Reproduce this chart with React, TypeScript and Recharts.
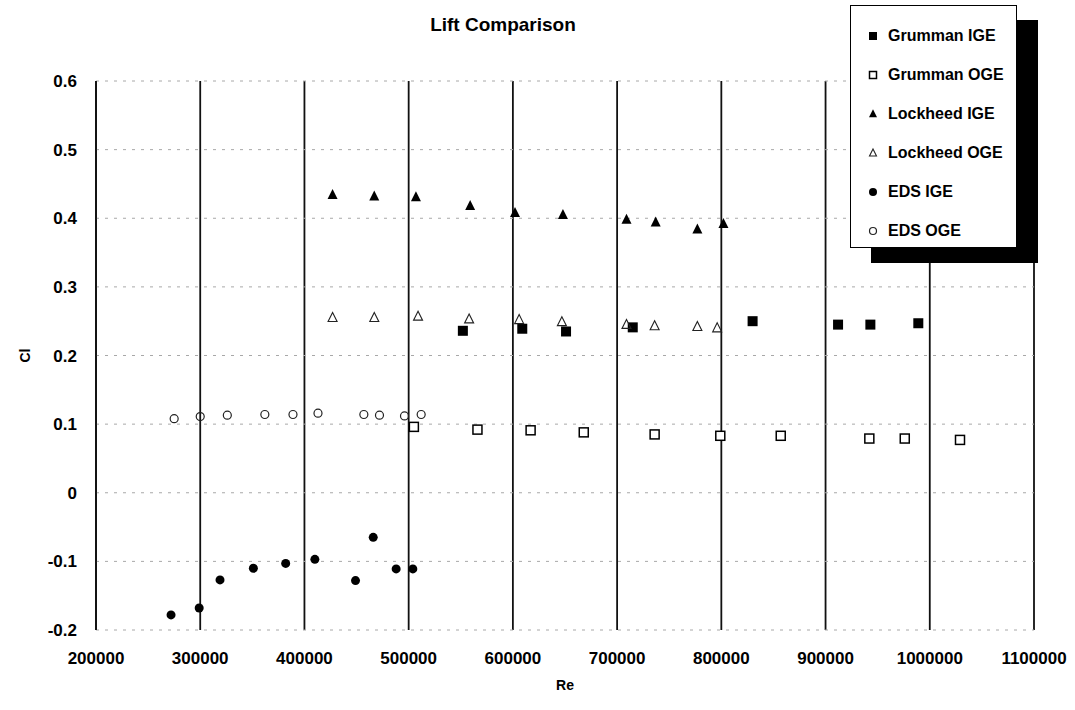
import React from 'react';
import { ScatterChart, Scatter, XAxis, YAxis, CartesianGrid, Legend } from 'recharts';

const xTicks = [200000, 300000, 400000, 500000, 600000, 700000, 800000, 900000, 1000000, 1100000];
const yTicks = [-0.2, -0.1, 0, 0.1, 0.2, 0.3, 0.4, 0.5, 0.6];

const grummanIgeRe = [552000, 609000, 651000, 715000, 830000, 912000, 943000, 989000];
const grummanIgeCl = [0.236, 0.239, 0.235, 0.241, 0.25, 0.245, 0.245, 0.247];

const grummanOgeRe = [505000, 566000, 617000, 668000, 736000, 799000, 857000, 942000, 976000, 1029000];
const grummanOgeCl = [0.096, 0.092, 0.091, 0.088, 0.085, 0.083, 0.083, 0.079, 0.079, 0.077];

const lockheedIgeRe = [427000, 467000, 507000, 559000, 602000, 648000, 709000, 737000, 777000, 802000];
const lockheedIgeCl = [0.434, 0.432, 0.431, 0.418, 0.408, 0.405, 0.398, 0.394, 0.384, 0.392];

const lockheedOgeRe = [427000, 467000, 509000, 558000, 606000, 647000, 709000, 736000, 777000, 796000];
const lockheedOgeCl = [0.255, 0.255, 0.257, 0.253, 0.252, 0.249, 0.245, 0.243, 0.242, 0.24];

const edsIgeRe = [272000, 299000, 319000, 351000, 382000, 410000, 449000, 466000, 488000, 504000];
const edsIgeCl = [-0.178, -0.168, -0.127, -0.11, -0.103, -0.097, -0.128, -0.065, -0.111, -0.111];

const edsOgeRe = [275000, 300000, 326000, 362000, 389000, 413000, 457000, 472000, 496000, 512000];
const edsOgeCl = [0.108, 0.111, 0.113, 0.114, 0.114, 0.116, 0.114, 0.113, 0.112, 0.114];

const zip = (re: number[], cl: number[]) => re.map((r, i) => ({ re: r, cl: cl[i] }));

const FONT = '"Liberation Sans", Arial, Helvetica, sans-serif';

type SP = { cx?: number; cy?: number; s?: number };

const FilledSquare = ({ cx = 0, cy = 0, s = 10 }: SP) => (
  <rect x={cx - s / 2} y={cy - s / 2} width={s} height={s} fill="#000" />
);
const OpenSquare = ({ cx = 0, cy = 0, s = 9 }: SP) => (
  <rect x={cx - s / 2} y={cy - s / 2} width={s} height={s} fill="#fff" stroke="#000" strokeWidth={1.5} />
);
const triPts = (cx: number, cy: number, s: number) =>
  `${cx},${cy - s * 0.58} ${cx - s / 2},${cy + s * 0.42} ${cx + s / 2},${cy + s * 0.42}`;
const FilledTriangle = ({ cx = 0, cy = 0, s = 10 }: SP) => (
  <polygon points={triPts(cx, cy, s)} fill="#000" />
);
const OpenTriangle = ({ cx = 0, cy = 0, s = 9 }: SP) => (
  <polygon points={triPts(cx, cy, s)} fill="none" stroke="#222" strokeWidth={1.1} />
);
const FilledCircle = ({ cx = 0, cy = 0, s = 9 }: SP) => (
  <circle cx={cx} cy={cy} r={s / 2} fill="#000" />
);
const OpenCircle = ({ cx = 0, cy = 0, s = 8 }: SP) => (
  <circle cx={cx} cy={cy} r={s / 2} fill="none" stroke="#222" strokeWidth={1.2} />
);

const seriesDefs = [
  { name: 'Grumman IGE', data: zip(grummanIgeRe, grummanIgeCl), Shape: FilledSquare, ls: 8 },
  { name: 'Grumman OGE', data: zip(grummanOgeRe, grummanOgeCl), Shape: OpenSquare, ls: 7 },
  { name: 'Lockheed IGE', data: zip(lockheedIgeRe, lockheedIgeCl), Shape: FilledTriangle, ls: 8 },
  { name: 'Lockheed OGE', data: zip(lockheedOgeRe, lockheedOgeCl), Shape: OpenTriangle, ls: 7 },
  { name: 'EDS IGE', data: zip(edsIgeRe, edsIgeCl), Shape: FilledCircle, ls: 8 },
  { name: 'EDS OGE', data: zip(edsOgeRe, edsOgeCl), Shape: OpenCircle, ls: 7 },
];

const LegendBox = () => (
  <div
    style={{
      position: 'relative',
      width: 167,
      height: 243,
      border: '1px solid #000',
      background: '#fff',
      boxShadow: '21px 15px 0 #000',
      boxSizing: 'border-box',
      fontFamily: FONT,
    }}
  >
    {seriesDefs.map((s, i) => (
      <div
        key={s.name}
        style={{
          position: 'absolute',
          left: 12,
          top: 30 + i * 39 - 10,
          height: 20,
          display: 'flex',
          alignItems: 'center',
          whiteSpace: 'nowrap',
        }}
      >
        <svg width={20} height={20} style={{ display: 'block' }}>
          <s.Shape cx={10} cy={10} s={s.ls} />
        </svg>
        <span style={{ marginLeft: 5, fontSize: 16, fontWeight: 'bold', color: '#000' }}>{s.name}</span>
      </div>
    ))}
  </div>
);

const tickStyle = { fontSize: 17, fontWeight: 'bold', fill: '#000', fontFamily: FONT };

const ClLabel = (props: any) => {
  const vb = props.viewBox || {};
  const x = (vb.x || 0) - 11;
  const y = (vb.y || 0) + (vb.height || 0) / 2;
  return (
    <text
      x={x}
      y={y}
      transform={`rotate(-90, ${x}, ${y})`}
      textAnchor="middle"
      dominantBaseline="central"
      style={{ fontSize: 14, fontWeight: 'bold', fill: '#000', fontFamily: FONT }}
    >
      Cl
    </text>
  );
};

export default function App() {
  return (
    <div style={{ position: 'absolute', left: 0, top: 0, width: 1075, height: 710, background: '#fff' }}>
      <div
        style={{
          position: 'absolute',
          left: 0,
          top: 14,
          width: 1006,
          textAlign: 'center',
          fontFamily: FONT,
          fontSize: 19,
          fontWeight: 'bold',
          lineHeight: '22px',
          color: '#000',
        }}
      >
        Lift Comparison
      </div>
      <ScatterChart width={1075} height={710} margin={{ top: 81, right: 41, bottom: 50, left: 36 }}>
        <CartesianGrid horizontal={false} stroke="#111" strokeWidth={1.8} />
        <CartesianGrid vertical={false} stroke="#a8a8a8" strokeDasharray="3 6" />
        <XAxis
          type="number"
          dataKey="re"
          domain={[200000, 1100000]}
          ticks={xTicks}
          interval={0}
          axisLine={false}
          tickLine={false}
          tickSize={0}
          tickMargin={22}
          tick={tickStyle}
          height={30}
          label={{ value: 'Re', position: 'bottom', offset: 20, fontSize: 14, fontWeight: 'bold', fill: '#000', fontFamily: FONT }}
        />
        <YAxis
          type="number"
          dataKey="cl"
          domain={[-0.2, 0.6]}
          ticks={yTicks}
          interval={0}
          axisLine={{ stroke: '#111', strokeWidth: 1.8 }}
          tickLine={false}
          tickSize={0}
          tickMargin={19}
          tick={tickStyle}
          width={60}
          tickFormatter={(v: number) => String(Math.round(v * 10) / 10)}
          label={<ClLabel />}
        />
        {seriesDefs.map((s) => (
          <Scatter
            key={s.name}
            name={s.name}
            data={s.data}
            isAnimationActive={false}
            shape={(p: any) => <s.Shape cx={p.cx} cy={p.cy} />}
          />
        ))}
        <Legend
          layout="vertical"
          align="center"
          verticalAlign="middle"
          content={() => <LegendBox />}
          wrapperStyle={{ position: 'absolute', left: 850, top: 5, width: 167, height: 243 }}
        />
      </ScatterChart>
    </div>
  );
}
